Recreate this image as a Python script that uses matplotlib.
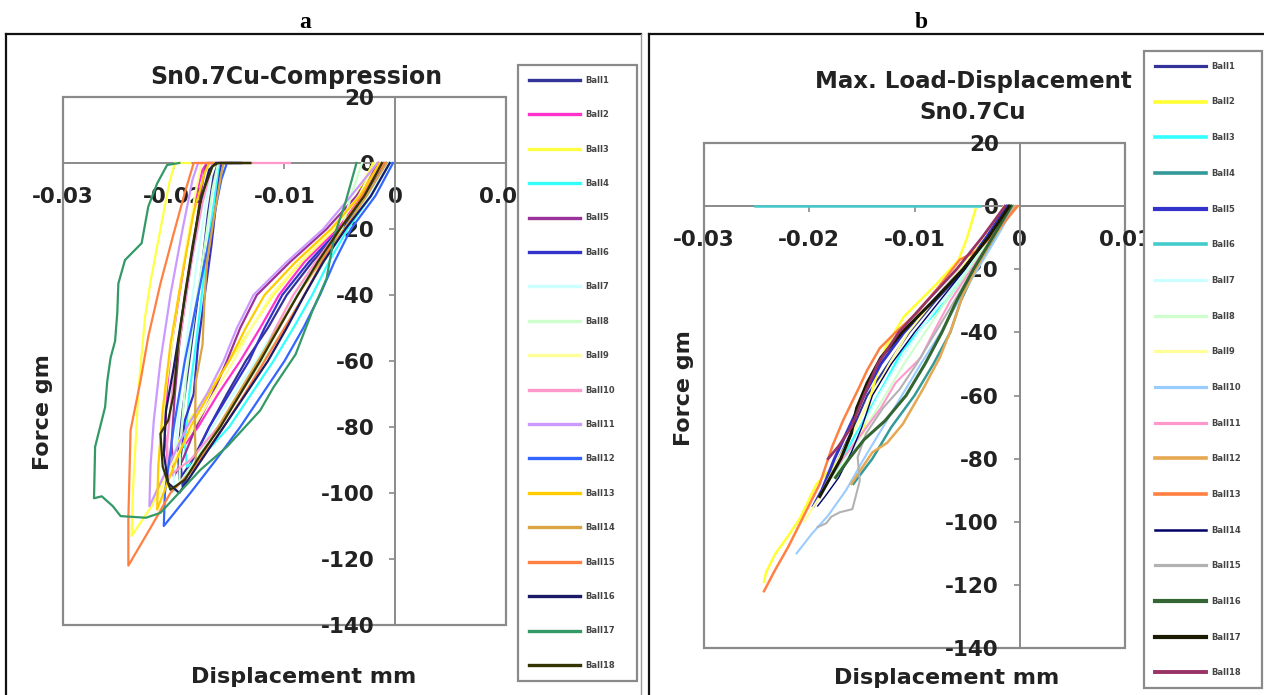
import matplotlib
matplotlib.use("Agg")
import matplotlib.pyplot as plt
from matplotlib.lines import Line2D
from matplotlib.patches import Rectangle

W, H = 1264, 695
plt.rcParams['font.family'] = ['DejaVu Sans']

BALLS = [f'Ball{i}' for i in range(1, 19)]
X_TICKS = [-0.03, -0.02, -0.01, 0, 0.01]
X_TICK_LABELS = ['-0.03', '-0.02', '-0.01', '0', '0.01']
Y_TICKS = [20, 0, -20, -40, -60, -80, -100, -120, -140]

# ---- a: Sn0.7Cu compression (load + unload) ----
A_COLORS = ['#333399', '#ff33cc', '#ffff44', '#33ffff', '#993399', '#3333cc',
            '#ccffff', '#ccffcc', '#ffff99', '#ff99cc', '#cc99ff', '#3366ff',
            '#ffcc00', '#d9a441', '#ff8040', '#1a1a66', '#339966', '#333300']
A_WIDTHS = [1.6] * 18

A_DISP = [
    [-0.0008, -0.0025, -0.0048, -0.0075, -0.0098, -0.0115, -0.0135, -0.0152, -0.0168, -0.0183, -0.0195,
     -0.0196, -0.0192, -0.0186, -0.0180, -0.0174, -0.0169, -0.0164, -0.0160, -0.0140],
    [-0.0012, -0.0030, -0.0052, -0.0082, -0.0105, -0.0122, -0.0140, -0.0160, -0.0178, -0.0196, -0.0205,
     -0.0208, -0.0206, -0.0202, -0.0195, -0.0188, -0.0180, -0.0174, -0.0170, -0.0150],
    [-0.0020, -0.0035, -0.0055, -0.0085, -0.0110, -0.0130, -0.0150, -0.0170, -0.0190, -0.0205, -0.0220, -0.0238,
     -0.0237, -0.0234, -0.0232, -0.0230, -0.0226, -0.0221, -0.0212, -0.0204, -0.0199, -0.0185],
    [-0.0005, -0.0022, -0.0043, -0.0060, -0.0075, -0.0092, -0.0110, -0.0130, -0.0150, -0.0172, -0.0188,
     -0.0190, -0.0186, -0.0180, -0.0174, -0.0168, -0.0162, -0.0158, -0.0142],
    [-0.0015, -0.0035, -0.0062, -0.0095, -0.0125, -0.0140, -0.0152, -0.0165, -0.0180, -0.0192, -0.0200,
     -0.0202, -0.0199, -0.0195, -0.0189, -0.0182, -0.0176, -0.0172, -0.0170, -0.0148],
    [-0.0010, -0.0028, -0.0050, -0.0078, -0.0102, -0.0118, -0.0132, -0.0150, -0.0168, -0.0182, -0.0192,
     -0.0194, -0.0190, -0.0182, -0.0178, -0.0172, -0.0166, -0.0161, -0.0157, -0.0138],
    [-0.0006, -0.0024, -0.0046, -0.0070, -0.0090, -0.0108, -0.0126, -0.0146, -0.0165, -0.0184, -0.0200,
     -0.0199, -0.0194, -0.0187, -0.0179, -0.0171, -0.0165],
    [-0.0030, -0.0040, -0.0048, -0.0064, -0.0082, -0.0100, -0.0120, -0.0140, -0.0160, -0.0180, -0.0195,
     -0.0194, -0.0189, -0.0181, -0.0172, -0.0165, -0.0160],
    [-0.0018, -0.0033, -0.0056, -0.0086, -0.0112, -0.0130, -0.0146, -0.0164, -0.0182, -0.0200, -0.0215,
     -0.0213, -0.0207, -0.0199, -0.0190, -0.0181, -0.0175, -0.0155],
    [-0.0012, -0.0030, -0.0050, -0.0072, -0.0092, -0.0108, -0.0122, -0.0140, -0.0160, -0.0185, -0.0205,
     -0.0206, -0.0201, -0.0193, -0.0184, -0.0174, -0.0165, -0.0095],
    [-0.0016, -0.0040, -0.0065, -0.0098, -0.0128, -0.0143, -0.0155, -0.0170, -0.0188, -0.0205, -0.0222,
     -0.0221, -0.0218, -0.0212, -0.0203, -0.0192, -0.0183, -0.0178, -0.0160],
    [-0.0002, -0.0018, -0.0040, -0.0055, -0.0068, -0.0083, -0.0100, -0.0120, -0.0140, -0.0162, -0.0185, -0.0209,
     -0.0208, -0.0200, -0.0190, -0.0178, -0.0166, -0.0157, -0.0152, -0.0140],
    [-0.0014, -0.0032, -0.0058, -0.0090, -0.0118, -0.0135, -0.0150, -0.0168, -0.0185, -0.0200, -0.0215,
     -0.0214, -0.0210, -0.0203, -0.0193, -0.0182, -0.0172, -0.0168, -0.0150],
    [-0.0008, -0.0026, -0.0046, -0.0068, -0.0088, -0.0106, -0.0124, -0.0142, -0.0160, -0.0180,
     -0.0181, -0.0180, -0.0174, -0.0172, -0.0170, -0.0163, -0.0157, -0.0155, -0.0130],
    [-0.0010, -0.0030, -0.0050, -0.0066, -0.0082, -0.0100, -0.0118, -0.0136, -0.0155, -0.0180, -0.0203, -0.0220, -0.0241,
     -0.0241, -0.0239, -0.0230, -0.0223, -0.0212, -0.0200, -0.0190, -0.0182, -0.0165],
    [-0.0005, -0.0022, -0.0045, -0.0065, -0.0082, -0.0098, -0.0115, -0.0135, -0.0155, -0.0175, -0.0195,
     -0.0205, -0.0209, -0.0207, -0.0200, -0.0192, -0.0184, -0.0176, -0.0168, -0.0162, -0.0131],
    [-0.0035, -0.0045, -0.0055, -0.0062, -0.0075, -0.0090, -0.0110, -0.0122, -0.0152, -0.0176, -0.0212, -0.0225,
     -0.0248, -0.0255, -0.0265, -0.0272, -0.0271, -0.0262, -0.0260, -0.0257, -0.0253, -0.0251, -0.0250,
     -0.0244, -0.0229, -0.0223, -0.0215, -0.0206, -0.0195],
    [-0.0012, -0.0028, -0.0050, -0.0070, -0.0088, -0.0105, -0.0122, -0.0140, -0.0158, -0.0175, -0.0190,
     -0.0203, -0.0210, -0.0212, -0.0205, -0.0200, -0.0196, -0.0190, -0.0183, -0.0175, -0.0165, -0.0160, -0.0131],
]
A_FORCE = [
    [0, -10, -20, -30, -40, -50, -60, -70, -80, -90, -96, -88, -75, -60, -45, -30, -15, -4, 0, 0],
    [0, -10, -20, -30, -40, -50, -60, -70, -80, -88, -92, -82, -68, -55, -40, -25, -10, -2, 0, 0],
    [0, -10, -20, -30, -40, -50, -60, -70, -80, -92, -104, -113, -100, -82, -69, -62, -47, -36, -20, -6, 0, 0],
    [0, -10, -20, -30, -40, -50, -60, -70, -80, -88, -92, -85, -70, -55, -38, -22, -8, 0, 0],
    [0, -10, -20, -30, -40, -50, -60, -70, -80, -90, -95, -85, -70, -55, -40, -25, -10, -2, 0, 0],
    [0, -10, -20, -30, -40, -50, -60, -70, -80, -90, -98, -90, -78, -70, -55, -40, -25, -10, 0, 0],
    [0, -10, -20, -30, -40, -50, -60, -70, -80, -92, -100, -88, -70, -50, -30, -12, 0],
    [0, -10, -20, -30, -40, -50, -60, -70, -80, -90, -97, -85, -65, -45, -25, -8, 0],
    [0, -10, -20, -30, -40, -50, -60, -70, -80, -90, -102, -88, -68, -48, -28, -10, 0, 0],
    [0, -10, -20, -30, -40, -50, -60, -70, -80, -90, -95, -85, -68, -50, -30, -12, 0, 0],
    [0, -10, -20, -30, -40, -50, -60, -70, -80, -92, -104, -92, -78, -60, -40, -20, -5, 0, 0],
    [0, -10, -20, -30, -40, -50, -60, -70, -80, -90, -100, -110, -100, -80, -60, -40, -20, -5, 0, 0],
    [0, -10, -20, -30, -40, -50, -60, -70, -80, -92, -105, -92, -75, -55, -35, -15, -3, 0, 0],
    [0, -10, -20, -30, -40, -50, -60, -70, -80, -92, -80, -66, -55, -40, -30, -15, -3, 0, 0],
    [0, -10, -20, -30, -40, -50, -60, -70, -80, -92, -100, -110, -122, -108, -81, -66, -52.6, -36.5, -21.3, -9, 0, 0],
    [0, -10, -20, -30, -40, -50, -60, -70, -80, -90, -100, -97, -88, -75, -62, -45, -28, -12, -2, 0, 0],
    [0, -12, -22, -35, -45, -58, -68, -75, -86, -93, -106, -107.5, -107, -104, -101, -101.6, -86, -74, -66,
     -59, -54, -45.5, -36.5, -29.4, -24.3, -13.2, -6.2, -0.6, 0],
    [0, -10, -20, -30, -40, -50, -60, -70, -80, -88, -96, -99, -92, -82, -78, -70, -55, -40, -25, -10, -1, 0, 0],
]

# ---- b: max. load-displacement, loading branch only ----
B_COLORS = ['#333399', '#ffff33', '#33ffff', '#339999', '#3333cc', '#44cccc',
            '#ccffff', '#ccffcc', '#ffff99', '#99ccff', '#ff99cc', '#e6a850',
            '#ff8040', '#000066', '#b2b2b2', '#336633', '#1a1a00', '#993366']
B_WIDTHS = [1.5, 1.8, 1.8, 1.8, 2.2, 1.8, 1.5, 1.5, 1.5, 1.5, 1.5, 1.8,
            1.8, 1.0, 1.5, 2.2, 2.2, 2.0]

B_DISP = [
    [-0.0010, -0.0030, -0.0052, -0.0080, -0.0105, -0.0125, -0.0145, -0.0158, -0.0172, -0.0185],
    [-0.0042, -0.0050, -0.0058, -0.0080, -0.0110, -0.0128, -0.0140, -0.0149, -0.0170, -0.0193, -0.0209,
     -0.0221, -0.0232, -0.0241, -0.0243],
    [-0.0008, -0.0026, -0.0048, -0.0070, -0.0092, -0.0112, -0.0128, -0.0145, -0.0162, -0.0175],
    [-0.0006, -0.0024, -0.0042, -0.0056, -0.0066, -0.0082, -0.0100, -0.0122, -0.0140, -0.0158],
    [-0.0012, -0.0032, -0.0055, -0.0082, -0.0110, -0.0132, -0.0148, -0.0162, -0.0176, -0.0188, -0.0196],
    [-0.0252, -0.0038],
    [-0.0010, -0.0030, -0.0050, -0.0074, -0.0096, -0.0116, -0.0134, -0.0150, -0.0166],
    [-0.0008, -0.0028, -0.0048, -0.0070, -0.0090, -0.0110, -0.0128, -0.0146, -0.0164, -0.0178],
    [-0.0015, -0.0035, -0.0056, -0.0082, -0.0106, -0.0124, -0.0140, -0.0156, -0.0172, -0.0190, -0.0205],
    [-0.0005, -0.0022, -0.0040, -0.0058, -0.0075, -0.0094, -0.0112, -0.0130, -0.0148, -0.0165, -0.0182,
     -0.0198, -0.0212],
    [-0.0008, -0.0026, -0.0046, -0.0066, -0.0082, -0.0094, -0.0118, -0.0132, -0.0150, -0.0168, -0.0180],
    [-0.0004, -0.0025, -0.0042, -0.0054, -0.0064, -0.0076, -0.0092, -0.0111, -0.0126, -0.0140, -0.0152, -0.0160],
    [-0.0002, -0.0022, -0.0040, -0.0057, -0.0078, -0.0098, -0.0118, -0.0133, -0.0145, -0.0152, -0.0168,
     -0.0178, -0.0190, -0.0205, -0.0220, -0.0232, -0.0243],
    [-0.0010, -0.0030, -0.0052, -0.0076, -0.0100, -0.0122, -0.0140, -0.0150, -0.0160, -0.0172, -0.0185, -0.0192],
    [-0.0006, -0.0026, -0.0044, -0.0062, -0.0080, -0.0098, -0.0114, -0.0130, -0.0146, -0.0154, -0.0152,
     -0.0159, -0.0171, -0.0179, -0.0184, -0.0192],
    [-0.0008, -0.0026, -0.0044, -0.0060, -0.0074, -0.0090, -0.0108, -0.0128, -0.0148, -0.0162, -0.0175],
    [-0.0010, -0.0030, -0.0054, -0.0082, -0.0112, -0.0132, -0.0145, -0.0155, -0.0160, -0.0170, -0.0180, -0.0190],
    [-0.0014, -0.0036, -0.0060, -0.0088, -0.0115, -0.0135, -0.0148, -0.0160, -0.0172, -0.0182],
]
B_FORCE = [
    [0, -10, -20, -30, -40, -50, -60, -70, -80, -88],
    [-1, -10, -17, -25, -35, -45, -58, -72, -80, -88, -99, -105, -110, -116, -119],
    [0, -10, -20, -30, -38, -46, -56, -66, -76, -84],
    [0, -10, -20, -30, -40, -50, -60, -70, -80, -88],
    [0, -10, -20, -30, -40, -50, -60, -70, -80, -90, -95],
    [0, 0],
    [0, -10, -20, -30, -40, -50, -60, -70, -80],
    [0, -10, -20, -30, -40, -50, -60, -70, -80, -86],
    [0, -10, -20, -30, -40, -50, -60, -70, -80, -92, -100],
    [0, -10, -20, -30, -40, -50, -60, -70, -80, -90, -98, -104, -110],
    [0, -10, -20, -30, -40, -48, -56, -64, -72, -80, -86],
    [0, -10, -20, -28, -38, -48, -58, -69, -75, -78, -84, -88],
    [0, -8, -14, -17, -26, -34, -40, -45, -52, -57, -68, -76, -88, -98, -108, -115, -122],
    [0, -10, -20, -30, -40, -50, -60, -70, -78, -86, -92, -95],
    [0, -10, -20, -30, -40, -50, -58, -64, -72, -79.5, -87, -96, -97, -98.4, -100.5, -101.7],
    [0, -10, -20, -30, -40, -50, -60, -68, -74, -80, -86],
    [0, -10, -20, -30, -40, -48, -56, -64, -72, -80, -86, -92],
    [0, -10, -20, -30, -40, -50, -60, -70, -76, -80],
]

TEXT = '#222222'
GRID_GREY = '#8a8a8a'


def px_box(left, top, right, bottom):
    return [left / W, 1 - bottom / H, (right - left) / W, (bottom - top) / H]


def draw_panel(ax, disp, force, colors, widths, leg_px, leg_spacing, ylab_xy, xlab_xy):
    for name, xs, ys, c, lw in zip(BALLS, disp, force, colors, widths):
        ax.plot(xs, ys, color=c, lw=lw, label=name, solid_joinstyle='round', zorder=3)
    ax.set_xlim(-0.03, 0.01)
    ax.set_ylim(-140, 20)
    ax.set_xticks(X_TICKS)
    ax.set_xticklabels(X_TICK_LABELS)
    ax.set_yticks(Y_TICKS)
    ax.set_yticklabels([str(v) for v in Y_TICKS])
    for side in ('top', 'right'):
        ax.spines[side].set_visible(False)
    ax.spines['left'].set_position(('data', 0))
    ax.spines['bottom'].set_position(('data', 0))
    for side in ('left', 'bottom'):
        ax.spines[side].set_color(GRID_GREY)
        ax.spines[side].set_linewidth(1.4)
    ax.add_patch(Rectangle((0, 0), 1, 1, transform=ax.transAxes, fill=False,
                           ec=GRID_GREY, lw=1.6, clip_on=False, zorder=0.5))
    ax.tick_params(axis='both', direction='out', length=4, width=1.2, color=GRID_GREY,
                   labelsize=15.5, labelcolor=TEXT)
    ax.tick_params(axis='x', pad=13)
    ax.tick_params(axis='y', pad=11)
    for lab in ax.get_xticklabels() + ax.get_yticklabels():
        lab.set_fontweight('bold')

    ax.set_xlabel('Displacement mm', fontsize=16, fontweight='bold', color=TEXT)
    ax.set_ylabel('Force gm', fontsize=16, fontweight='bold', color=TEXT)
    ax.xaxis.set_label_coords(*xlab_xy)
    ax.yaxis.set_label_coords(*ylab_xy)

    l, t, r = leg_px
    leg = ax.legend(loc='upper left', bbox_to_anchor=(l / W, 1 - t / H - 0.01, (r - l) / W, 0.01),
                    bbox_transform=ax.figure.transFigure, mode='expand', borderaxespad=0,
                    fontsize=6, handlelength=6.1, handletextpad=0.7, labelspacing=leg_spacing,
                    borderpad=1.3, fancybox=False, framealpha=1, edgecolor=GRID_GREY)
    leg.get_frame().set_linewidth(1.6)
    for t in leg.get_texts():
        t.set_color('#444444')
        t.set_fontweight('bold')
    for hl in leg.get_lines():
        hl.set_linewidth(hl.get_linewidth() + 0.8)
    leg.set_zorder(10)


fig = plt.figure(figsize=(W / 100, H / 100), dpi=100)

ax_a = fig.add_axes(px_box(63, 97, 506, 625))
draw_panel(ax_a, A_DISP, A_FORCE, A_COLORS, A_WIDTHS, (518, 65, 637), 3.05,
           (-0.0226, 0.403), (0.544, -0.08))
ax_b = fig.add_axes(px_box(704, 143, 1125, 648))
draw_panel(ax_b, B_DISP, B_FORCE, B_COLORS, B_WIDTHS, (1144, 51, 1262), 3.2,
           (-0.024, 0.515), (0.577, -0.04))

fig.text(296 / W, 1 - 77 / H, 'Sn0.7Cu-Compression', ha='center', va='center',
         fontsize=17, fontweight='bold', color=TEXT)
fig.text(973 / W, 1 - 97 / H, 'Max. Load-Displacement\nSn0.7Cu', ha='center', va='center',
         fontsize=16.5, fontweight='bold', color=TEXT, linespacing=1.4)

# panel letters and outer frames
for letter, x in (('a', 305), ('b', 921)):
    fig.text(x / W, 1 - 22 / H, letter, ha='center', va='center', fontsize=17,
             fontweight='bold', family='Liberation Serif', color='black')
frame_kw = dict(color='#111111', lw=1.6, transform=fig.transFigure)
fig.add_artist(Line2D([6 / W, 641 / W], [1 - 34 / H] * 2, **frame_kw))
fig.add_artist(Line2D([6 / W] * 2, [0, 1 - 34 / H], **frame_kw))
fig.add_artist(Line2D([641 / W] * 2, [0, 1 - 34 / H], color='#999999', lw=1.0,
                      transform=fig.transFigure))
fig.add_artist(Line2D([649 / W, 1.0], [1 - 34 / H] * 2, **frame_kw))
fig.add_artist(Line2D([649 / W] * 2, [0, 1 - 34 / H], **frame_kw))

fig.savefig('out.png', dpi=100)
